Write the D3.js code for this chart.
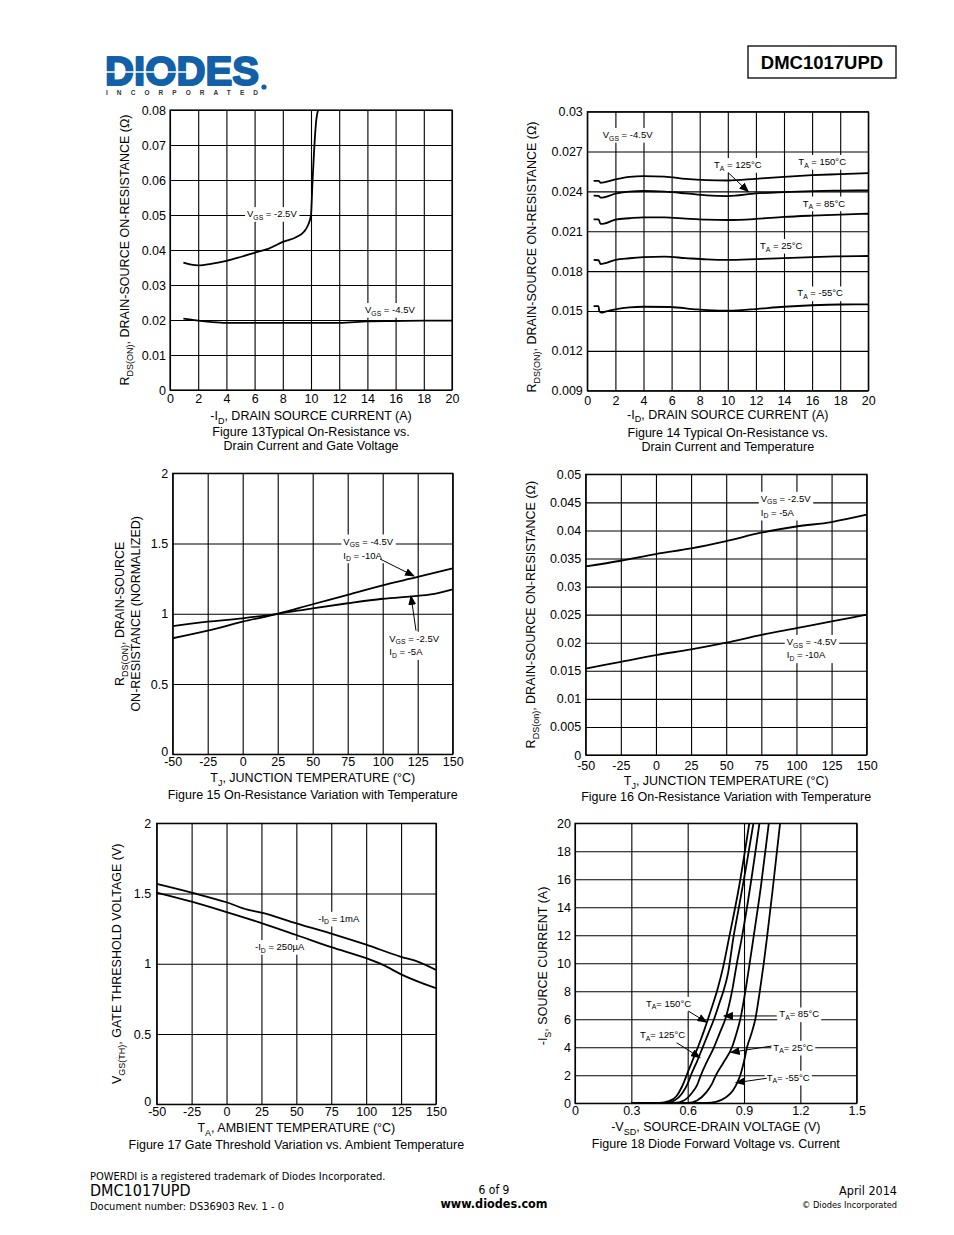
<!DOCTYPE html>
<html><head><meta charset="utf-8">
<script src="https://cdn.jsdelivr.net/npm/d3@7"></script>
<style>body{margin:0;background:#fff}svg{display:block}</style>
</head><body>
<svg id="page" width="954" height="1235"></svg>
<script>
// ---------------- DATA ----------------
// Figure 13
const f13_xTicks = [0,2,4,6,8,10,12,14,16,18,20];
const f13_yTicks = [0,0.01,0.02,0.03,0.04,0.05,0.06,0.07,0.08];
const f13_vgs25 = [[0.95,0.0364],[1.5,0.0358],[2.0,0.0356],[3.0,0.0361],[4.0,0.0369],[5.0,0.0380],[6.0,0.0392],[7.0,0.0404],[8.0,0.0423],[9.0,0.0438],[9.5,0.0452],[9.8,0.0472],[10.0,0.0500],[10.1,0.0589],[10.22,0.0684],[10.37,0.0770],[10.5,0.0800]];
const f13_vgs45 = [[0.95,0.0204],[1.5,0.0201],[2.0,0.0198],[3.0,0.0194],[4.0,0.0192],[6.0,0.0192],[8.0,0.0192],[10.0,0.0192],[12.0,0.0192],[14.0,0.0196],[16.0,0.0197],[18.0,0.0198],[20.0,0.0198]];
// Figure 14
const f14_xTicks = [0,2,4,6,8,10,12,14,16,18,20];
const f14_yTicks = [0.009,0.012,0.015,0.018,0.021,0.024,0.027,0.03];
const f14_t150 = [[0.45,0.0248],[0.8,0.0248],[0.95,0.02465],[1.2,0.02468],[2,0.0249],[3,0.0251],[4,0.02515],[5.5,0.02512],[7,0.02495],[8.5,0.02485],[10,0.02482],[12,0.02495],[14,0.0251],[16,0.02522],[18,0.0253],[20,0.02538]];
const f14_t125 = [[0.45,0.02368],[0.8,0.02366],[0.95,0.02353],[1.2,0.02356],[2,0.02383],[3,0.02398],[4,0.02403],[5.5,0.02398],[7,0.02385],[8.5,0.02370],[10,0.02365],[12,0.02385],[14,0.02395],[16,0.02402],[18,0.02406],[20,0.02408]];
const f14_t85 = [[0.45,0.0219],[0.8,0.0219],[0.95,0.02155],[1.2,0.02158],[2,0.02188],[3,0.02198],[4,0.02205],[5.5,0.02205],[7,0.02195],[8.5,0.02187],[10,0.02185],[12,0.02193],[14,0.02208],[16,0.02218],[18,0.02226],[20,0.02232]];
const f14_t25 = [[0.45,0.01884],[0.8,0.01882],[0.95,0.01853],[1.2,0.01858],[2,0.01885],[3,0.01897],[4,0.01905],[5.5,0.01909],[7,0.01898],[8.5,0.01888],[10,0.01884],[12,0.01890],[14,0.01898],[16,0.01906],[18,0.01911],[20,0.01914]];
const f14_tm55 = [[0.45,0.01537],[0.8,0.01537],[0.85,0.01500],[1.0,0.01487],[1.3,0.01495],[2,0.01512],[3,0.01527],[4,0.01532],[5.9,0.0153],[7.8,0.01512],[9.7,0.01502],[11.6,0.01512],[14,0.01532],[16,0.01543],[18,0.01549],[20,0.0155]];
// Figure 15
const f15_xTicks = [-50,-25,0,25,50,75,100,125,150];
const f15_yTicks = [0,0.5,1,1.5,2];
const f15_vgs45 = [[-50,0.826],[-25,0.88],[0,0.944],[25,1.0],[50,1.068],[75,1.134],[100,1.203],[125,1.262],[150,1.324]];
const f15_vgs25 = [[-50,0.913],[-25,0.944],[0,0.968],[25,1.0],[50,1.039],[75,1.075],[100,1.107],[125,1.128],[137,1.142],[150,1.174]];
// Figure 16
const f16_xTicks = [-50,-25,0,25,50,75,100,125,150];
const f16_yTicks = [0,0.005,0.01,0.015,0.02,0.025,0.03,0.035,0.04,0.045,0.05];
const f16_vgs25 = [[-50,0.0336],[-25,0.0346],[0,0.0358],[25,0.0368],[50,0.0381],[75,0.0396],[100,0.0407],[125,0.0415],[150,0.0428]];
const f16_vgs45 = [[-50,0.0154],[-25,0.0166],[0,0.0178],[25,0.0188],[50,0.0200],[75,0.0214],[100,0.0226],[125,0.0238],[150,0.0250]];
// Figure 17
const f17_xTicks = [-50,-25,0,25,50,75,100,125,150];
const f17_yTicks = [0,0.5,1,1.5,2];
const f17_id1mA = [[-50,1.568],[-25,1.506],[0,1.438],[15,1.385],[25,1.364],[50,1.288],[75,1.215],[100,1.136],[125,1.05],[135,1.022],[150,0.956]];
const f17_id250uA = [[-50,1.507],[-25,1.442],[0,1.368],[25,1.290],[50,1.205],[75,1.118],[100,1.040],[112,0.992],[125,0.925],[150,0.826]];
// Figure 18
const f18_xTicks = [0,0.3,0.6,0.9,1.2,1.5];
const f18_yTicks = [0,2,4,6,8,10,12,14,16,18,20];
const f18_t150 = [[0.30,0],[0.45,0.02],[0.50,0.15],[0.54,0.5],[0.57,1.2],[0.60,2.2],[0.63,3.2],[0.66,4.2],[0.69,5.3],[0.72,6.5],[0.76,8.2],[0.79,9.8],[0.82,11.8],[0.87,15.2],[0.928,20]];
const f18_t125 = [[0.30,0],[0.48,0.02],[0.53,0.2],[0.57,0.7],[0.60,1.4],[0.62,2.1],[0.65,3.0],[0.68,4.0],[0.71,5.0],[0.74,6.0],[0.77,7.2],[0.79,8.0],[0.815,9.3],[0.843,11.8],[0.87,13.8],[0.91,16.8],[0.95,20]];
const f18_t85 = [[0.30,0],[0.53,0.02],[0.58,0.2],[0.62,0.7],[0.65,1.3],[0.67,2.0],[0.70,2.9],[0.74,4.0],[0.77,5.0],[0.80,6.0],[0.836,8.0],[0.862,10],[0.888,11.8],[0.93,15.2],[0.982,20]];
const f18_t25 = [[0.30,0],[0.60,0.02],[0.65,0.2],[0.70,0.8],[0.73,1.4],[0.75,2.0],[0.79,2.9],[0.836,4.0],[0.86,5.0],[0.88,6.0],[0.907,8.0],[0.93,10],[0.95,11.8],[0.99,15.5],[1.032,20]];
const f18_tm55 = [[0.30,0],[0.70,0.02],[0.75,0.1],[0.80,0.4],[0.84,0.9],[0.865,1.5],[0.88,2.0],[0.90,3.0],[0.916,4.0],[0.94,5.0],[0.96,6.0],[0.984,8.0],[1.005,10],[1.022,11.8],[1.052,15.2],[1.092,20]];

// ---------------- DRAWING ----------------
const FONT = "'Liberation Sans', Arial, Helvetica, sans-serif";
const svg = d3.select("#page");
svg.append("rect").attr("width",954).attr("height",1235).attr("fill","#fff");

const defs = svg.append("defs");
defs.append("marker").attr("id","arrow").attr("markerUnits","userSpaceOnUse")
  .attr("markerWidth",10).attr("markerHeight",8).attr("refX",9).attr("refY",4).attr("orient","auto")
  .append("path").attr("d","M0,0 L10,4 L0,8 Z").attr("fill","#000");

// text with subscripts: segments [[text, isSub], ...]
function richText(sel, segs, size) {
  let sub = false;
  segs.forEach(([t, s]) => {
    const ts = sel.append("tspan").text(t);
    if (s && !sub) { ts.attr("dy", size*0.28).attr("font-size", size*0.72); sub = true; }
    else if (s) { ts.attr("font-size", size*0.72); }
    else if (!s && sub) { ts.attr("dy", -size*0.28); sub = false; }
  });
  return sel;
}

let clipId = 0;
function chart(c) {
  const g = svg.append("g").attr("transform", `translate(${c.left},${c.top})`);
  const W = c.width, H = c.height;
  const x = d3.scaleLinear().domain(c.xDomain).range([0, W]);
  const y = d3.scaleLinear().domain(c.yDomain).range([H, 0]);
  const fmt = v => String(Math.round(v*10000)/10000);

  const xa = g.append("g").attr("transform", `translate(0,${H})`)
    .call(d3.axisBottom(x).tickValues(c.xTicks).tickSize(-H).tickSizeOuter(0).tickPadding(c.xPad).tickFormat(fmt));
  const ya = g.append("g")
    .call(d3.axisLeft(y).tickValues(c.yTicks).tickSize(-W).tickSizeOuter(0).tickPadding(c.yPad).tickFormat(fmt));
  [xa, ya].forEach(a => {
    a.select(".domain").remove();
    a.attr("font-family", FONT).attr("font-size", 12.5);
    a.selectAll("line").attr("stroke", "#000").attr("stroke-width", 1.1);
    a.selectAll("text").attr("fill", "#000");
  });
  if (c.y0Raise) {
    ya.selectAll(".tick").filter(d => d === c.yDomain[0]).select("text").attr("y", -c.y0Raise);
  }
  g.append("rect").attr("width", W).attr("height", H).attr("fill", "none").attr("stroke", "#000").attr("stroke-width", 1.2);

  const cid = "clip" + (clipId++);
  g.append("clipPath").attr("id", cid).append("rect").attr("width", W).attr("height", H);
  const line = d3.line().x(d => x(d[0])).y(d => y(d[1])).curve(d3.curveMonotoneX);
  const lg = g.append("g").attr("clip-path", `url(#${cid})`);
  c.series.forEach(s => {
    lg.append("path").attr("d", line(s)).attr("fill", "none").attr("stroke", "#000").attr("stroke-width", 1.8).attr("stroke-linejoin","round");
  });

  const ag = g.append("g").attr("font-family", FONT).attr("font-size", 9.5);
  (c.labels || []).forEach(L => {
    const grp = ag.append("g");
    const bg = grp.append("rect").attr("fill", "#fff");
    L.lines.forEach((segs, i) => {
      const t = grp.append("text").attr("x", x(L.x)).attr("y", y(L.y) + i*L.lh);
      richText(t, segs, 9.5);
    });
    const bb = grp.node().getBBox();
    bg.attr("x", bb.x - 2).attr("y", bb.y - 1).attr("width", bb.width + 4).attr("height", bb.height + 2);
  });
  (c.arrows || []).forEach(A => {
    ag.append("line").attr("x1", x(A[0])).attr("y1", y(A[1])).attr("x2", x(A[2])).attr("y2", y(A[3]))
      .attr("stroke", "#000").attr("stroke-width", 1).attr("marker-end", "url(#arrow)");
  });

  const tg = svg.append("g").attr("font-family", FONT).attr("font-size", 12.5).attr("fill", "#000");
  const cx = c.left + W/2;
  richText(tg.append("text").attr("x", cx).attr("y", c.top + H + c.xTitleDy).attr("text-anchor", "middle"), c.xTitle, 12.5);
  c.caption.forEach((t, i) => {
    tg.append("text").attr("x", cx).attr("y", c.top + H + c.capDy + i*14).attr("text-anchor", "middle").text(t);
  });
  c.yTitle.forEach((segs, i) => {
    const ty = c.yCenter !== undefined ? c.yCenter : c.top + H/2;
    const tx = c.yTitleX[i];
    richText(tg.append("text").attr("transform", `translate(${tx},${ty}) rotate(-90)`).attr("text-anchor", "middle"), segs, 12.5);
  });
  return {x, y};
}

// Figure 13
chart({left:170, top:110, width:282, height:280, xDomain:[0,20], yDomain:[0,0.08],
  xTicks:f13_xTicks, yTicks:f13_yTicks, xPad:4, yPad:4,
  series:[f13_vgs25, f13_vgs45],
  labels:[
    {x:5.46, y:0.0494, lh:0, lines:[[["V",0],["GS",1],[" = -2.5V",0]]]},
    {x:13.83, y:0.0220, lh:0, lines:[[["V",0],["GS",1],[" = -4.5V",0]]]}
  ],
  xTitle:[["-I",0],["D",1],[", DRAIN SOURCE CURRENT (A)",0]], xTitleDy:30,
  caption:["Figure 13Typical On-Resistance vs.","Drain Current and Gate Voltage"], capDy:46,
  yTitle:[[["R",0],["DS(ON)",1],[", DRAIN-SOURCE ON-RESISTANCE (Ω)",0]]], yTitleX:[129]
});

// Figure 14
chart({left:587.3, top:111.7, width:281, height:279, xDomain:[0,20], yDomain:[0.009,0.03],
  xTicks:f14_xTicks, yTicks:f14_yTicks, xPad:5, yPad:4.5,
  series:[f14_t150, f14_t125, f14_t85, f14_t25, f14_tm55],
  labels:[
    {x:1.1, y:0.02802, lh:0, lines:[[["V",0],["GS",1],[" = -4.5V",0]]]},
    {x:9.02, y:0.02576, lh:0, lines:[[["T",0],["A",1],[" = 125°C",0]]]},
    {x:15.02, y:0.02599, lh:0, lines:[[["T",0],["A",1],[" = 150°C",0]]]},
    {x:15.33, y:0.02286, lh:0, lines:[[["T",0],["A",1],[" = 85°C",0]]]},
    {x:12.29, y:0.01967, lh:0, lines:[[["T",0],["A",1],[" = 25°C",0]]]},
    {x:14.95, y:0.01609, lh:0, lines:[[["T",0],["A",1],[" = -55°C",0]]]}
  ],
  arrows:[[10.04,0.02540,11.46,0.02398]],
  xTitle:[["-I",0],["D",1],[", DRAIN SOURCE CURRENT (A)",0]], xTitleDy:28,
  caption:["Figure 14 Typical On-Resistance vs.","Drain Current and Temperature"], capDy:46,
  yTitle:[[["R",0],["DS(ON)",1],[", DRAIN-SOURCE ON-RESISTANCE (Ω)",0]]], yTitleX:[536], yCenter:257
});

// Figure 15
chart({left:172.7, top:473.3, width:280, height:281, xDomain:[-50,150], yDomain:[0,2],
  xTicks:f15_xTicks, yTicks:f15_yTicks, xPad:3, yPad:4.5, y0Raise:2.5,
  series:[f15_vgs45, f15_vgs25],
  labels:[
    {x:71.9, y:1.493, lh:14, lines:[[["V",0],["GS",1],[" = -4.5V",0]],[["I",0],["D",1],[" = -10A",0]]]},
    {x:104.7, y:0.801, lh:13.5, lines:[[["V",0],["GS",1],[" = -2.5V",0]],[["I",0],["D",1],[" = -5A",0]]]}
  ],
  arrows:[[98.1,1.39,122.4,1.269],[123.8,0.88,120.2,1.127]],
  xTitle:[["T",0],["J",1],[", JUNCTION TEMPERATURE (°C)",0]], xTitleDy:28,
  caption:["Figure 15 On-Resistance Variation with Temperature"], capDy:45,
  yTitle:[[["R",0],["DS(ON)",1],[", DRAIN-SOURCE",0]],[["ON-RESISTANCE (NORMALIZED)",0]]], yTitleX:[124,140]
});

// Figure 16
chart({left:585.7, top:474.3, width:281, height:280.7, xDomain:[-50,150], yDomain:[0,0.05],
  xTicks:f16_xTicks, yTicks:f16_yTicks, xPad:6, yPad:4.5,
  series:[f16_vgs25, f16_vgs45],
  labels:[
    {x:74.6, y:0.0451, lh:14, lines:[[["V",0],["GS",1],[" = -2.5V",0]],[["I",0],["D",1],[" = -5A",0]]]},
    {x:93.1, y:0.0196, lh:13.5, lines:[[["V",0],["GS",1],[" = -4.5V",0]],[["I",0],["D",1],[" = -10A",0]]]}
  ],
  xTitle:[["T",0],["J",1],[", JUNCTION TEMPERATURE (°C)",0]], xTitleDy:30,
  caption:["Figure 16 On-Resistance Variation with Temperature"], capDy:46,
  yTitle:[[["R",0],["DS(on)",1],[", DRAIN-SOURCE ON-RESISTANCE (Ω)",0]]], yTitleX:[535]
});

// Figure 17
chart({left:156.7, top:823.3, width:279.3, height:281, xDomain:[-50,150], yDomain:[0,2],
  xTicks:f17_xTicks, yTicks:f17_yTicks, xPad:3, yPad:5.5, y0Raise:2.5,
  series:[f17_id1mA, f17_id250uA],
  labels:[
    {x:65.7, y:1.299, lh:0, lines:[[["-I",0],["D",1],[" = 1mA",0]]]},
    {x:20.4, y:1.098, lh:0, lines:[[["-I",0],["D",1],[" = 250µA",0]]]}
  ],
  xTitle:[["T",0],["A",1],[", AMBIENT TEMPERATURE (°C)",0]], xTitleDy:28,
  caption:["Figure 17 Gate Threshold Variation vs. Ambient Temperature"], capDy:45,
  yTitle:[[["V",0],["GS(TH)",1],[", GATE THRESHOLD VOLTAGE (V)",0]]], yTitleX:[121]
});

// Figure 18
chart({left:575, top:823.3, width:281.7, height:280, xDomain:[0,1.5], yDomain:[0,20],
  xTicks:f18_xTicks, yTicks:f18_yTicks, xPad:3, yPad:4,
  series:[f18_t150, f18_t125, f18_t85, f18_t25, f18_tm55],
  labels:[
    {x:0.378, y:6.89, lh:0, lines:[[["T",0],["A",1],["= 150°C",0]]]},
    {x:0.346, y:4.63, lh:0, lines:[[["T",0],["A",1],["= 125°C",0]]]},
    {x:1.088, y:6.13, lh:0, lines:[[["T",0],["A",1],["= 85°C",0]]]},
    {x:1.056, y:3.75, lh:0, lines:[[["T",0],["A",1],["= 25°C",0]]]},
    {x:1.021, y:1.61, lh:0, lines:[[["T",0],["A",1],["= -55°C",0]]]}
  ],
  arrows:[[0.603,6.59,0.701,5.79],[0.541,4.33,0.666,3.26],[1.074,6.24,0.793,6.24],[1.047,4.09,0.829,3.64],[1.021,1.79,0.857,1.47]],
  xTitle:[["-V",0],["SD",1],[", SOURCE-DRAIN VOLTAGE (V)",0]], xTitleDy:28,
  caption:["Figure 18 Diode Forward Voltage vs. Current"], capDy:45,
  yTitle:[[["-I",0],["S",1],[", SOURCE CURRENT (A)",0]]], yTitleX:[547], yCenter:966
});

// ---------------- HEADER ----------------
const hdr = svg.append("g").attr("font-family", FONT);
hdr.append("text").attr("x", 105).attr("y", 85).attr("font-size", 40).attr("font-weight", "bold")
  .attr("fill", "#1160a8").attr("stroke", "#1160a8").attr("stroke-width", 2).attr("stroke-linejoin", "round")
  .attr("textLength", 154).attr("lengthAdjust", "spacingAndGlyphs").text("DIODES");
hdr.append("line").attr("x1", 106).attr("x2", 190).attr("y1", 72).attr("y2", 72).attr("stroke", "#fff").attr("stroke-width", 1.6);
hdr.append("circle").attr("cx", 264).attr("cy", 87).attr("r", 2.6).attr("fill", "#1160a8");
hdr.append("text").attr("x", 106).attr("y", 95).attr("font-size", 6.5).attr("font-weight", "bold").attr("fill", "#333")
  .attr("textLength", 152).attr("lengthAdjust", "spacing").text("INCORPORATED");
hdr.append("rect").attr("x", 748).attr("y", 46).attr("width", 148).attr("height", 32).attr("fill", "none").attr("stroke", "#000").attr("stroke-width", 1.3);
hdr.append("text").attr("x", 822).attr("y", 68.8).attr("text-anchor", "middle").attr("font-size", 18.5).attr("font-weight", "bold").text("DMC1017UPD");

// ---------------- FOOTER ----------------
const NARROW = "'Liberation Sans Narrow', 'DejaVu Sans Condensed', Arial, sans-serif";
const ft = svg.append("g").attr("font-family", NARROW).attr("fill", "#000");
ft.append("text").attr("x", 90).attr("y", 1180).attr("font-size", 11).text("POWERDI is a registered trademark of Diodes Incorporated.");
ft.append("text").attr("x", 90).attr("y", 1196).attr("font-size", 16).text("DMC1017UPD");
ft.append("text").attr("x", 90).attr("y", 1210).attr("font-size", 11).text("Document number: DS36903 Rev. 1 - 0");
ft.append("text").attr("x", 494).attr("y", 1194).attr("font-size", 12).attr("text-anchor", "middle").text("6 of 9");
ft.append("text").attr("x", 494).attr("y", 1208).attr("font-size", 12.5).attr("font-weight", "bold").attr("text-anchor", "middle").text("www.diodes.com");
ft.append("text").attr("x", 897).attr("y", 1195).attr("font-size", 12.5).attr("text-anchor", "end").text("April 2014");
ft.append("text").attr("x", 897).attr("y", 1208).attr("font-size", 9.2).attr("text-anchor", "end").text("© Diodes Incorporated");
</script>
</body></html>
